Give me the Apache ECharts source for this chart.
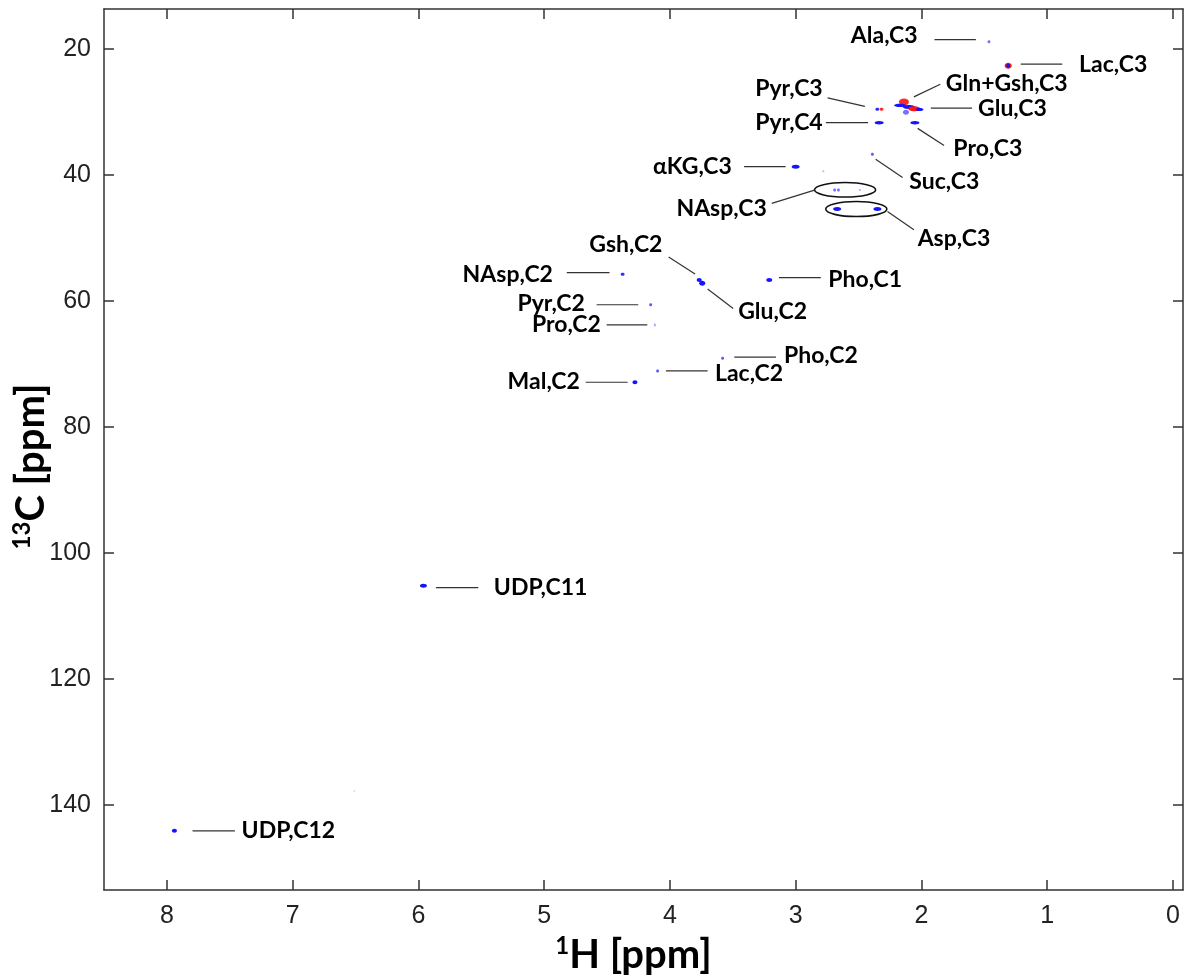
<!DOCTYPE html>
<html>
<head>
<meta charset="utf-8">
<script src="https://cdn.jsdelivr.net/npm/echarts@6/dist/echarts.min.js"></script>
<style>
  html, body { margin: 0; padding: 0; background: #fff; }
  #chart { width: 1187px; height: 976px; }
</style>
</head>
<body>
<div id="chart"></div>
<script>
// 1H-13C HSQC cross peaks: proton shift, carbon shift (ppm)
const peakH = [1.463, 1.31, 1.31, 2.351, 2.317, 2.336, 2.052, 2.139, 2.17, 2.10, 2.057, 2.015, 2.123,
               2.39, 3.0, 2.78, 2.69, 2.66, 2.49, 2.67, 2.35,
               4.376, 3.767, 3.743, 3.21, 4.153, 4.12, 3.581, 4.098, 4.278,
               5.96, 7.94, 6.51];
const peakC = [18.84, 22.65, 22.65, 29.57, 29.57, 31.7, 31.7, 28.4, 28.95, 29.2, 29.5, 29.6, 30.05,
               36.7, 38.7, 39.4, 42.4, 42.4, 42.4, 45.4, 45.4,
               55.76, 56.67, 57.2, 56.67, 60.6, 63.8, 69.1, 71.1, 72.9,
               105.2, 144.1, 137.8];
// peak line widths along each dimension (ppm)
const peakWidthH = [0.024, 0.056, 0.032, 0.032, 0.032, 0.072, 0.072, 0.08, 0.095, 0.095, 0.095, 0.064, 0.048,
                    0.024, 0.064, 0.016, 0.024, 0.024, 0.016, 0.064, 0.064,
                    0.032, 0.04, 0.048, 0.048, 0.024, 0.016, 0.024, 0.024, 0.04,
                    0.056, 0.04, 0.016];
const peakWidthC = [0.48, 0.95, 0.63, 0.48, 0.48, 0.56, 0.56, 1.1, 0.48, 0.63, 0.8, 0.48, 0.8,
                    0.48, 0.63, 0.32, 0.48, 0.48, 0.32, 0.63, 0.63,
                    0.48, 0.63, 0.8, 0.63, 0.48, 0.48, 0.48, 0.48, 0.63,
                    0.63, 0.63, 0.32];
// phase: +1 positive (blue), -1 negative (red)
const peakPhase = [1, -1, 1, 1, -1, 1, 1, -1, 1, 1, -1, 1, 1,
                   1, 1, 1, 1, 1, 1, 1, 1,
                   1, 1, 1, 1, 1, 1, 1, 1, 1,
                   1, 1, 1];
// relative intensity (0..1)
const peakIntensity = [0.6, 1, 1, 0.9, 0.9, 1, 1, 0.9, 1, 1, 1, 1, 0.6,
                       0.7, 1, 0.3, 0.6, 0.6, 0.35, 1, 1,
                       0.9, 1, 1, 1, 0.7, 0.4, 0.7, 0.7, 1,
                       1, 1, 0.15];

// assignment labels
const labelText = ['Ala,C3', 'Lac,C3', 'Gln+Gsh,C3', 'Glu,C3', 'Pyr,C3', 'Pyr,C4', 'Pro,C3', 'Suc,C3',
                   'αKG,C3', 'NAsp,C3', 'Asp,C3', 'Gsh,C2', 'NAsp,C2', 'Glu,C2', 'Pho,C1', 'Pyr,C2',
                   'Pro,C2', 'Pho,C2', 'Lac,C2', 'Mal,C2', 'UDP,C11', 'UDP,C12'];
// label placement: leader start (H, C), leader end (H, C), text anchor (H, C), text alignment
const labelLayout = [
  [1.896, 18.5, 1.567, 18.5, 2.03, 17.9, 'right'],
  [1.21, 22.4, 0.88, 22.4, 0.746, 22.4, 'left'],
  [2.06, 27.6, 1.85, 25.6, 1.806, 25.5, 'left'],
  [1.925, 29.4, 1.597, 29.4, 1.55, 29.45, 'left'],
  [2.746, 27.75, 2.45, 29.1, 2.785, 26.3, 'right'],
  [2.76, 31.7, 2.424, 31.7, 2.785, 31.7, 'right'],
  [2.03, 32.6, 1.82, 35.3, 1.746, 35.8, 'left'],
  [2.364, 37.5, 2.15, 40.4, 2.096, 41.0, 'left'],
  [3.41, 38.66, 3.08, 38.66, 3.507, 38.6, 'right'],
  [3.19, 44.5, 2.85, 42.4, 3.23, 45.3, 'right'],
  [2.27, 45.8, 2.06, 48.7, 2.03, 50.1, 'left'],
  [4.01, 53.0, 3.80, 55.7, 4.35, 51.0, 'center'],
  [4.82, 55.5, 4.48, 55.5, 4.93, 55.8, 'right'],
  [3.70, 58.1, 3.497, 61.2, 3.457, 61.7, 'left'],
  [3.133, 56.3, 2.80, 56.3, 2.741, 56.65, 'left'],
  [4.583, 60.6, 4.252, 60.6, 4.676, 60.4, 'right'],
  [4.503, 63.8, 4.18, 63.8, 4.549, 63.8, 'right'],
  [3.488, 68.9, 3.157, 68.9, 3.093, 68.7, 'left'],
  [4.032, 71.1, 3.70, 71.1, 3.642, 71.6, 'left'],
  [4.67, 72.9, 4.336, 72.9, 4.716, 72.85, 'right'],
  [5.861, 105.5, 5.524, 105.5, 5.40, 105.5, 'left'],
  [7.796, 144.1, 7.459, 144.1, 7.406, 144.1, 'left']
];
// grouped regions (centre H, centre C, half-width H, half-height C)
const groupRegions = [
  [2.607, 42.35, 0.243, 1.15],
  [2.518, 45.4, 0.243, 1.2]
];

const hTicks = [0, 1, 2, 3, 4, 5, 6, 7, 8];
const cTicks = [20, 40, 60, 80, 100, 120, 140];
const hRange = [-0.08, 8.5];
const cRange = [13.65, 153.5];

const frameColor = '#333';
const tickFont = 'Liberation Sans, Arial, sans-serif';
const labelFont = 'Lato, sans-serif';

function frameAxis(pos, vals, range, showLabels, name, nameGap, namePad) {
  const isX = pos === 'bottom' || pos === 'top';
  const ax = {
    type: 'value',
    position: pos,
    inverse: true,
    min: range[0],
    max: range[1],
    splitLine: { show: false },
    axisLine: { show: true, onZero: false, lineStyle: { color: frameColor, width: 1.5 } },
    axisTick: { show: true, inside: true, length: 10, customValues: vals,
                lineStyle: { color: frameColor, width: 1.5 } },
    axisLabel: { show: showLabels, customValues: vals, fontSize: 25, fontFamily: tickFont,
                 color: '#222', margin: isX ? 14 : 13 }
  };
  if (name) {
    ax.name = name;
    ax.nameLocation = 'middle';
    ax.nameGap = nameGap;
    if (!isX) ax.nameMoveOverlap = false;
    ax.nameTextStyle = {
      color: '#000',
      fontFamily: labelFont,
      fontWeight: 'bold',
      padding: namePad,
      rich: {
        s: { fontSize: 24, fontWeight: 'bold', fontFamily: labelFont, color: '#000',
             verticalAlign: 'top', lineHeight: 22 },
        m: { fontSize: 40, fontWeight: 'bold', fontFamily: labelFont, color: '#000',
             lineHeight: 42 }
      }
    };
  }
  return ax;
}

const chart = echarts.init(document.getElementById('chart'), null, { renderer: 'canvas' });

const peakData = peakH.map((h, i) => [h, peakC[i], peakWidthH[i], peakWidthC[i], peakPhase[i], peakIntensity[i]]);
const labelData = labelLayout.map(r => r.slice(0, 6));

chart.setOption({
  animation: false,
  backgroundColor: '#fff',
  grid: { left: 104, right: 4, top: 9, bottom: 86, containLabel: false, outerBoundsMode: 'none' },
  xAxis: [
    frameAxis('bottom', hTicks, hRange, true, '{s|1}{m|H [ppm]}', 33, [0, 20, 0, 0]),
    frameAxis('top', hTicks, hRange, false)
  ],
  yAxis: [
    frameAxis('left', cTicks, cRange, true, '{s|13}{m|C [ppm]}', 52, [0, 34, 0, 0]),
    frameAxis('right', cTicks, cRange, false)
  ],
  series: [
    {
      // grouping ellipses
      type: 'custom',
      xAxisIndex: 0, yAxisIndex: 0,
      data: groupRegions,
      encode: { x: 0, y: 1 },
      renderItem: function (params, api) {
        const c = api.coord([api.value(0), api.value(1)]);
        const s = api.size([api.value(2), api.value(3)]);
        return {
          type: 'ellipse',
          shape: { cx: c[0], cy: c[1], rx: s[0], ry: s[1] },
          style: { fill: 'none', stroke: '#111', lineWidth: 1.6 }
        };
      },
      z: 3
    },
    {
      // cross peaks
      type: 'custom',
      xAxisIndex: 0, yAxisIndex: 0,
      data: peakData,
      encode: { x: 0, y: 1 },
      renderItem: function (params, api) {
        const c = api.coord([api.value(0), api.value(1)]);
        const s = api.size([api.value(2), api.value(3)]);
        const neg = api.value(4) < 0;
        const a = api.value(5);
        const col = neg ? 'rgba(255,20,20,' + a + ')' : 'rgba(20,20,255,' + a + ')';
        return {
          type: 'ellipse',
          shape: { cx: c[0], cy: c[1], rx: Math.max(s[0] / 2, 0.8), ry: Math.max(s[1] / 2, 0.8) },
          style: { fill: col }
        };
      },
      z: 4
    },
    {
      // assignment leaders and labels
      type: 'custom',
      xAxisIndex: 0, yAxisIndex: 0,
      data: labelData,
      encode: { x: [0, 2, 4], y: [1, 3, 5] },
      renderItem: function (params, api) {
        const p1 = api.coord([api.value(0), api.value(1)]);
        const p2 = api.coord([api.value(2), api.value(3)]);
        const t = api.coord([api.value(4), api.value(5)]);
        const i = params.dataIndex;
        return {
          type: 'group',
          children: [
            {
              type: 'line',
              shape: { x1: p1[0], y1: p1[1], x2: p2[0], y2: p2[1] },
              style: { stroke: '#333', lineWidth: 1.2 }
            },
            {
              type: 'text',
              style: {
                text: labelText[i],
                x: t[0], y: t[1],
                align: labelLayout[i][6],
                verticalAlign: 'middle',
                fontSize: 23,
                fontWeight: 'bold',
                fontFamily: labelFont,
                fill: '#000'
              }
            }
          ]
        };
      },
      z: 5
    }
  ]
});
</script>
</body>
</html>
